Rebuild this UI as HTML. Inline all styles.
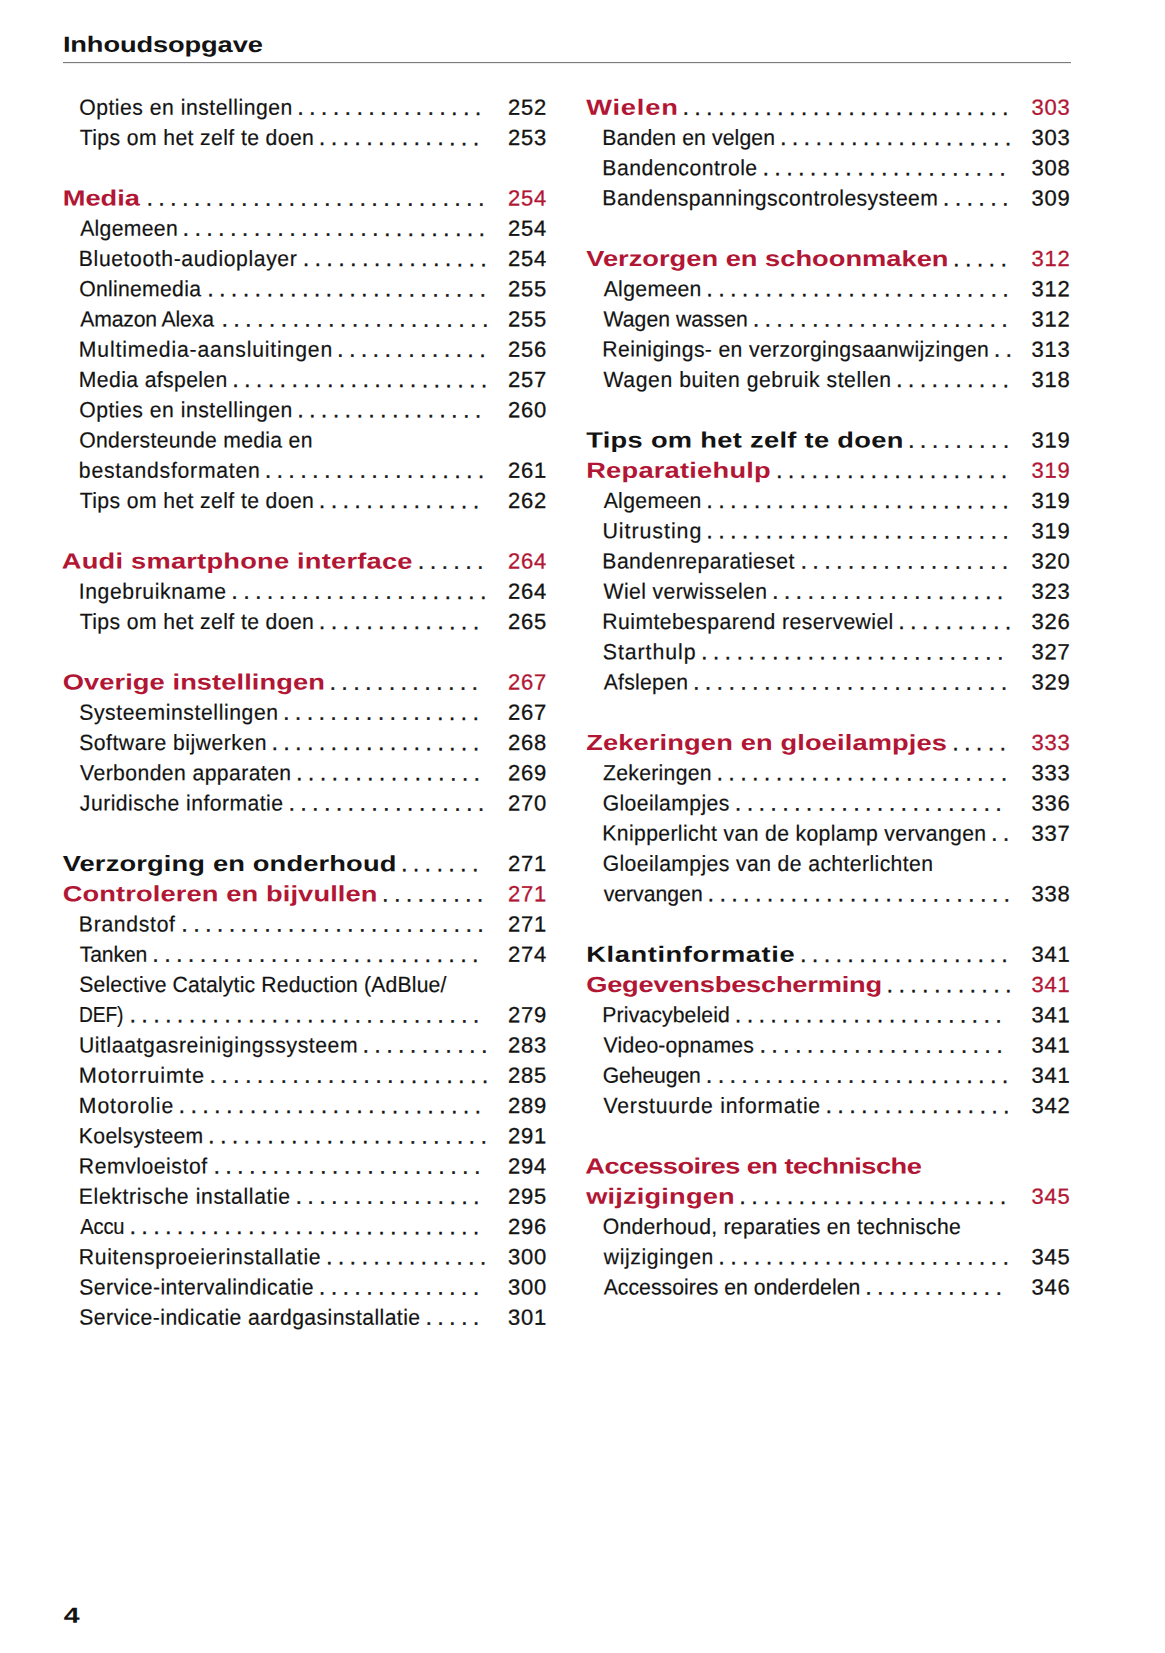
<!DOCTYPE html>
<html lang="nl"><head><meta charset="utf-8"><title>Inhoudsopgave</title><style>
html,body{margin:0;padding:0;background:#fff}
body{width:1165px;height:1653px;position:relative;overflow:hidden;font-family:"Liberation Sans",sans-serif;font-size:22.0px;line-height:30px;color:#131313}
.r{position:absolute;left:0;width:1165px;height:30px;white-space:pre}
.r span{position:absolute;top:0;white-space:pre;display:inline-block;transform-origin:0 50%}
.t{-webkit-text-stroke:0.2px currentColor}
.h{font-weight:bold;-webkit-text-stroke:0px currentColor}
.d{letter-spacing:5.728px;-webkit-text-stroke:0.45px currentColor}
.n{letter-spacing:0.728px;-webkit-text-stroke:0.3px currentColor}
#rule{position:absolute;left:63px;width:1007.5px;top:62px;height:1px;background:#7b7b7b;border-bottom:1px solid #ececec}
</style></head>
<body>
<div class="r" style="top:29px"><span class="h" style="letter-spacing:-0.109px;left:62px;transform:translate(0.88px,0.85px) skewY(0.03deg) scaleX(1.2400);">Inhoudsopgave</span></div>
<div id="rule"></div>
<div class="r" style="top:92px"><span class="t" style="letter-spacing:0.530px;left:79px;transform:translate(0.20px,0.64px) skewY(0.03deg) scaleX(0.9620);">Opties en instellingen</span><span class="d" style="left:297px;transform:translate(0.44px,0.80px) skewY(0.03deg);">................</span><span class="n" style="left:508px;transform:translate(0.04px,0.69px) skewY(0.03deg);">252</span></div>
<div class="r" style="top:122px"><span class="t" style="letter-spacing:0.410px;left:79px;transform:translate(0.72px,0.89px) skewY(0.03deg) scaleX(0.9620);">Tips om het zelf te doen</span><span class="d" style="left:319px;transform:translate(0.04px,1.06px) skewY(0.03deg);">..............</span><span class="n" style="left:508px;transform:translate(0.04px,0.94px) skewY(0.03deg);">253</span></div>
<div class="r" style="top:183px"><span class="h" style="color:#b21635;letter-spacing:-0.017px;left:62px;transform:translate(0.70px,0.53px) skewY(0.03deg) scaleX(1.2400);">Media</span><span class="d" style="left:146px;transform:translate(0.64px,0.61px) skewY(0.03deg);">.............................</span><span class="n" style="color:#b21635;left:508px;transform:translate(0.04px,0.54px) skewY(0.03deg);">254</span></div>
<div class="r" style="top:213px"><span class="t" style="letter-spacing:0.329px;left:80px;transform:translate(0.16px,0.67px) skewY(0.03deg) scaleX(0.9620);">Algemeen</span><span class="d" style="left:182px;transform:translate(0.84px,0.77px) skewY(0.03deg);">..........................</span><span class="n" style="left:508px;transform:translate(0.04px,0.69px) skewY(0.03deg);">254</span></div>
<div class="r" style="top:243px"><span class="t" style="letter-spacing:0.623px;left:78px;transform:translate(0.86px,0.89px) skewY(0.03deg) scaleX(0.9620);">Bluetooth-audioplayer</span><span class="d" style="left:302px;transform:translate(0.94px,1.05px) skewY(0.03deg);">................</span><span class="n" style="left:508px;transform:translate(0.04px,0.94px) skewY(0.03deg);">254</span></div>
<div class="r" style="top:274px"><span class="t" style="letter-spacing:0.300px;left:79px;transform:translate(0.20px,0.17px) skewY(0.03deg) scaleX(0.9620);">Onlinemedia</span><span class="d" style="left:207px;transform:translate(0.44px,0.28px) skewY(0.03deg);">........................</span><span class="n" style="left:508px;transform:translate(0.04px,0.19px) skewY(0.03deg);">255</span></div>
<div class="r" style="top:304px"><span class="t" style="letter-spacing:-0.144px;left:80px;transform:translate(0.16px,0.41px) skewY(0.03deg) scaleX(0.9620);">Amazon Alexa</span><span class="d" style="left:221px;transform:translate(0.64px,0.53px) skewY(0.03deg);">.......................</span><span class="n" style="left:508px;transform:translate(0.04px,0.44px) skewY(0.03deg);">255</span></div>
<div class="r" style="top:334px"><span class="t" style="letter-spacing:0.868px;left:78px;transform:translate(0.86px,0.63px) skewY(0.03deg) scaleX(0.9620);">Multimedia-aansluitingen</span><span class="d" style="left:337px;transform:translate(0.34px,0.81px) skewY(0.03deg);">.............</span><span class="n" style="left:508px;transform:translate(0.04px,0.69px) skewY(0.03deg);">256</span></div>
<div class="r" style="top:364px"><span class="t" style="letter-spacing:0.390px;left:78px;transform:translate(0.86px,0.91px) skewY(0.03deg) scaleX(0.9620);">Media afspelen</span><span class="d" style="left:232px;transform:translate(0.44px,1.03px) skewY(0.03deg);">......................</span><span class="n" style="left:508px;transform:translate(0.04px,0.94px) skewY(0.03deg);">257</span></div>
<div class="r" style="top:395px"><span class="t" style="letter-spacing:0.530px;left:79px;transform:translate(0.20px,0.14px) skewY(0.03deg) scaleX(0.9620);">Opties en instellingen</span><span class="d" style="left:297px;transform:translate(0.44px,0.30px) skewY(0.03deg);">................</span><span class="n" style="left:508px;transform:translate(0.04px,0.19px) skewY(0.03deg);">260</span></div>
<div class="r" style="top:425px"><span class="t" style="letter-spacing:0.322px;left:79px;transform:translate(0.20px,0.39px) skewY(0.03deg) scaleX(0.9620);">Ondersteunde media en</span></div>
<div class="r" style="top:455px"><span class="t" style="letter-spacing:0.799px;left:78px;transform:translate(0.84px,0.65px) skewY(0.03deg) scaleX(0.9620);">bestandsformaten</span><span class="d" style="left:264px;transform:translate(0.94px,0.79px) skewY(0.03deg);">...................</span><span class="n" style="left:508px;transform:translate(0.04px,0.69px) skewY(0.03deg);">261</span></div>
<div class="r" style="top:485px"><span class="t" style="letter-spacing:0.410px;left:79px;transform:translate(0.72px,0.89px) skewY(0.03deg) scaleX(0.9620);">Tips om het zelf te doen</span><span class="d" style="left:319px;transform:translate(0.04px,1.06px) skewY(0.03deg);">..............</span><span class="n" style="left:508px;transform:translate(0.04px,0.94px) skewY(0.03deg);">262</span></div>
<div class="r" style="top:546px"><span class="h" style="color:#b21635;letter-spacing:0.169px;left:61px;transform:translate(0.80px,0.46px) skewY(0.03deg) scaleX(1.2400);">Audi smartphone interface</span><span class="d" style="left:418px;transform:translate(0.04px,0.68px) skewY(0.03deg);">......</span><span class="n" style="color:#b21635;left:508px;transform:translate(0.04px,0.54px) skewY(0.03deg);">264</span></div>
<div class="r" style="top:576px"><span class="t" style="letter-spacing:0.631px;left:78px;transform:translate(0.65px,0.66px) skewY(0.03deg) scaleX(0.9620);">Ingebruikname</span><span class="d" style="left:231px;transform:translate(0.54px,0.78px) skewY(0.03deg);">......................</span><span class="n" style="left:508px;transform:translate(0.04px,0.69px) skewY(0.03deg);">264</span></div>
<div class="r" style="top:606px"><span class="t" style="letter-spacing:0.410px;left:79px;transform:translate(0.72px,0.89px) skewY(0.03deg) scaleX(0.9620);">Tips om het zelf te doen</span><span class="d" style="left:319px;transform:translate(0.04px,1.06px) skewY(0.03deg);">..............</span><span class="n" style="left:508px;transform:translate(0.04px,0.94px) skewY(0.03deg);">265</span></div>
<div class="r" style="top:667px"><span class="h" style="color:#b21635;letter-spacing:0.061px;left:62px;transform:translate(0.70px,0.48px) skewY(0.03deg) scaleX(1.2400);">Overige instellingen</span><span class="d" style="left:329px;transform:translate(0.74px,0.66px) skewY(0.03deg);">.............</span><span class="n" style="color:#b21635;left:508px;transform:translate(0.04px,0.54px) skewY(0.03deg);">267</span></div>
<div class="r" style="top:697px"><span class="t" style="letter-spacing:0.613px;left:79px;transform:translate(0.24px,0.65px) skewY(0.03deg) scaleX(0.9620);">Systeeminstellingen</span><span class="d" style="left:283px;transform:translate(0.24px,0.80px) skewY(0.03deg);">.................</span><span class="n" style="left:508px;transform:translate(0.04px,0.69px) skewY(0.03deg);">267</span></div>
<div class="r" style="top:727px"><span class="t" style="letter-spacing:0.516px;left:79px;transform:translate(0.24px,0.90px) skewY(0.03deg) scaleX(0.9620);">Software bijwerken</span><span class="d" style="left:271px;transform:translate(0.64px,1.05px) skewY(0.03deg);">..................</span><span class="n" style="left:508px;transform:translate(0.04px,0.94px) skewY(0.03deg);">268</span></div>
<div class="r" style="top:758px"><span class="t" style="letter-spacing:0.426px;left:80px;transform:translate(0.11px,0.15px) skewY(0.03deg) scaleX(0.9620);">Verbonden apparaten</span><span class="d" style="left:296px;transform:translate(0.24px,0.30px) skewY(0.03deg);">................</span><span class="n" style="left:508px;transform:translate(0.04px,0.19px) skewY(0.03deg);">269</span></div>
<div class="r" style="top:788px"><span class="t" style="letter-spacing:0.472px;left:79px;transform:translate(0.87px,0.40px) skewY(0.03deg) scaleX(0.9620);">Juridische informatie</span><span class="d" style="left:288px;transform:translate(0.64px,0.55px) skewY(0.03deg);">.................</span><span class="n" style="left:508px;transform:translate(0.04px,0.44px) skewY(0.03deg);">270</span></div>
<div class="r" style="top:849px"><span class="h" style="letter-spacing:0.121px;left:62px;transform:translate(0.70px,-0.04px) skewY(0.03deg) scaleX(1.2400);">Verzorging en onderhoud</span><span class="d" style="left:401px;transform:translate(0.14px,0.18px) skewY(0.03deg);">.......</span><span class="n" style="left:508px;transform:translate(0.04px,0.04px) skewY(0.03deg);">271</span></div>
<div class="r" style="top:879px"><span class="h" style="color:#b21635;letter-spacing:0.089px;left:62px;transform:translate(0.70px,0.22px) skewY(0.03deg) scaleX(1.2400);">Controleren en bijvullen</span><span class="d" style="left:382px;transform:translate(0.34px,0.43px) skewY(0.03deg);">.........</span><span class="n" style="color:#b21635;left:508px;transform:translate(0.04px,0.29px) skewY(0.03deg);">271</span></div>
<div class="r" style="top:909px"><span class="t" style="letter-spacing:0.717px;left:78px;transform:translate(0.86px,0.42px) skewY(0.03deg) scaleX(0.9620);">Brandstof</span><span class="d" style="left:181px;transform:translate(0.54px,0.52px) skewY(0.03deg);">..........................</span><span class="n" style="left:508px;transform:translate(0.04px,0.44px) skewY(0.03deg);">271</span></div>
<div class="r" style="top:939px"><span class="t" style="letter-spacing:-0.124px;left:79px;transform:translate(0.72px,0.68px) skewY(0.03deg) scaleX(0.9620);">Tanken</span><span class="d" style="left:152px;transform:translate(0.54px,0.77px) skewY(0.03deg);">............................</span><span class="n" style="left:508px;transform:translate(0.04px,0.69px) skewY(0.03deg);">274</span></div>
<div class="r" style="top:969px"><span class="t" style="letter-spacing:0.169px;left:79px;transform:translate(0.24px,0.85px) skewY(0.03deg) scaleX(0.9620);">Selective Catalytic Reduction (AdBlue/</span></div>
<div class="r" style="top:1000px"><span class="t" style="letter-spacing:-0.150px;left:79px;transform:translate(0.03px,0.19px) skewY(0.03deg) scaleX(0.8720);">DEF)</span><span class="d" style="left:129px;transform:translate(0.74px,0.26px) skewY(0.03deg);">..............................</span><span class="n" style="left:508px;transform:translate(0.04px,0.19px) skewY(0.03deg);">279</span></div>
<div class="r" style="top:1030px"><span class="t" style="letter-spacing:0.605px;left:78px;transform:translate(0.97px,0.38px) skewY(0.03deg) scaleX(0.9620);">Uitlaatgasreinigingssysteem</span><span class="d" style="left:362px;transform:translate(0.74px,0.57px) skewY(0.03deg);">...........</span><span class="n" style="left:508px;transform:translate(0.04px,0.44px) skewY(0.03deg);">283</span></div>
<div class="r" style="top:1060px"><span class="t" style="letter-spacing:0.950px;left:78px;transform:translate(0.82px,0.67px) skewY(0.03deg) scaleX(0.9873);">Motorruimte</span><span class="d" style="left:209px;transform:translate(0.64px,0.78px) skewY(0.03deg);">........................</span><span class="n" style="left:508px;transform:translate(0.04px,0.69px) skewY(0.03deg);">285</span></div>
<div class="r" style="top:1090px"><span class="t" style="letter-spacing:0.950px;left:78px;transform:translate(0.86px,0.93px) skewY(0.03deg) scaleX(0.9622);">Motorolie</span><span class="d" style="left:178px;transform:translate(0.84px,1.02px) skewY(0.03deg);">..........................</span><span class="n" style="left:508px;transform:translate(0.04px,0.94px) skewY(0.03deg);">289</span></div>
<div class="r" style="top:1121px"><span class="t" style="letter-spacing:0.330px;left:78px;transform:translate(0.86px,0.17px) skewY(0.03deg) scaleX(0.9620);">Koelsysteem</span><span class="d" style="left:208px;transform:translate(0.34px,0.28px) skewY(0.03deg);">........................</span><span class="n" style="left:508px;transform:translate(0.04px,0.19px) skewY(0.03deg);">291</span></div>
<div class="r" style="top:1151px"><span class="t" style="letter-spacing:0.556px;left:78px;transform:translate(0.86px,0.42px) skewY(0.03deg) scaleX(0.9620);">Remvloeistof</span><span class="d" style="left:213px;transform:translate(0.64px,0.53px) skewY(0.03deg);">.......................</span><span class="n" style="left:508px;transform:translate(0.04px,0.44px) skewY(0.03deg);">294</span></div>
<div class="r" style="top:1181px"><span class="t" style="letter-spacing:0.645px;left:78px;transform:translate(0.86px,0.64px) skewY(0.03deg) scaleX(0.9620);">Elektrische installatie</span><span class="d" style="left:295px;transform:translate(0.74px,0.80px) skewY(0.03deg);">................</span><span class="n" style="left:508px;transform:translate(0.04px,0.69px) skewY(0.03deg);">295</span></div>
<div class="r" style="top:1211px"><span class="t" style="letter-spacing:-0.150px;left:80px;transform:translate(0.16px,0.94px) skewY(0.03deg) scaleX(0.9158);">Accu</span><span class="d" style="left:129px;transform:translate(0.74px,1.01px) skewY(0.03deg);">..............................</span><span class="n" style="left:508px;transform:translate(0.04px,0.94px) skewY(0.03deg);">296</span></div>
<div class="r" style="top:1242px"><span class="t" style="letter-spacing:0.685px;left:78px;transform:translate(0.86px,0.14px) skewY(0.03deg) scaleX(0.9620);">Ruitensproeierinstallatie</span><span class="d" style="left:326px;transform:translate(0.14px,0.31px) skewY(0.03deg);">..............</span><span class="n" style="left:508px;transform:translate(0.04px,0.19px) skewY(0.03deg);">300</span></div>
<div class="r" style="top:1272px"><span class="t" style="letter-spacing:0.464px;left:79px;transform:translate(0.24px,0.39px) skewY(0.03deg) scaleX(0.9620);">Service-intervalindicatie</span><span class="d" style="left:319px;transform:translate(0.04px,0.56px) skewY(0.03deg);">..............</span><span class="n" style="left:508px;transform:translate(0.04px,0.44px) skewY(0.03deg);">300</span></div>
<div class="r" style="top:1302px"><span class="t" style="letter-spacing:0.444px;left:79px;transform:translate(0.24px,0.61px) skewY(0.03deg) scaleX(0.9620);">Service-indicatie aardgasinstallatie</span><span class="d" style="left:425px;transform:translate(0.64px,0.84px) skewY(0.03deg);">.....</span><span class="n" style="left:508px;transform:translate(0.04px,0.69px) skewY(0.03deg);">301</span></div>
<div class="r" style="top:92px"><span class="h" style="color:#b21635;letter-spacing:0.632px;left:586px;transform:translate(0.20px,0.78px) skewY(0.03deg) scaleX(1.2400);">Wielen</span><span class="d" style="left:682px;transform:translate(0.64px,0.87px) skewY(0.03deg);">............................</span><span class="n" style="color:#b21635;left:1031px;transform:translate(0.54px,0.79px) skewY(0.03deg);">303</span></div>
<div class="r" style="top:122px"><span class="t" style="letter-spacing:0.137px;left:602px;transform:translate(0.36px,0.91px) skewY(0.03deg) scaleX(0.9620);">Banden en velgen</span><span class="d" style="left:780px;transform:translate(0.14px,1.04px) skewY(0.03deg);">....................</span><span class="n" style="left:1031px;transform:translate(0.54px,0.94px) skewY(0.03deg);">303</span></div>
<div class="r" style="top:153px"><span class="t" style="letter-spacing:0.521px;left:602px;transform:translate(0.36px,0.16px) skewY(0.03deg) scaleX(0.9620);">Bandencontrole</span><span class="d" style="left:762px;transform:translate(0.74px,0.29px) skewY(0.03deg);">.....................</span><span class="n" style="left:1031px;transform:translate(0.54px,0.19px) skewY(0.03deg);">308</span></div>
<div class="r" style="top:183px"><span class="t" style="letter-spacing:0.430px;left:602px;transform:translate(0.36px,0.36px) skewY(0.03deg) scaleX(0.9620);">Bandenspanningscontrolesysteem</span><span class="d" style="left:943px;transform:translate(0.04px,0.58px) skewY(0.03deg);">......</span><span class="n" style="left:1031px;transform:translate(0.54px,0.44px) skewY(0.03deg);">309</span></div>
<div class="r" style="top:244px"><span class="h" style="color:#b21635;left:586px;transform:translate(0.20px,-0.04px) skewY(0.03deg) scaleX(1.2400);">Verzorgen en schoonmaken</span><span class="d" style="left:953px;transform:translate(0.34px,0.19px) skewY(0.03deg);">.....</span><span class="n" style="color:#b21635;left:1031px;transform:translate(0.54px,0.04px) skewY(0.03deg);">312</span></div>
<div class="r" style="top:274px"><span class="t" style="letter-spacing:0.359px;left:603px;transform:translate(0.66px,0.17px) skewY(0.03deg) scaleX(0.9620);">Algemeen</span><span class="d" style="left:706px;transform:translate(0.54px,0.27px) skewY(0.03deg);">..........................</span><span class="n" style="left:1031px;transform:translate(0.54px,0.19px) skewY(0.03deg);">312</span></div>
<div class="r" style="top:304px"><span class="t" style="letter-spacing:0.024px;left:603px;transform:translate(0.61px,0.41px) skewY(0.03deg) scaleX(0.9620);">Wagen wassen</span><span class="d" style="left:752px;transform:translate(0.94px,0.53px) skewY(0.03deg);">......................</span><span class="n" style="left:1031px;transform:translate(0.54px,0.44px) skewY(0.03deg);">312</span></div>
<div class="r" style="top:334px"><span class="t" style="letter-spacing:0.379px;left:602px;transform:translate(0.36px,0.60px) skewY(0.03deg) scaleX(0.9620);">Reinigings- en verzorgingsaanwijzingen</span><span class="d" style="left:993px;transform:translate(0.94px,0.85px) skewY(0.03deg);">..</span><span class="n" style="left:1031px;transform:translate(0.54px,0.69px) skewY(0.03deg);">313</span></div>
<div class="r" style="top:364px"><span class="t" style="letter-spacing:0.589px;left:603px;transform:translate(0.61px,0.88px) skewY(0.03deg) scaleX(0.9620);">Wagen buiten gebruik stellen</span><span class="d" style="left:896px;transform:translate(0.24px,1.07px) skewY(0.03deg);">..........</span><span class="n" style="left:1031px;transform:translate(0.54px,0.94px) skewY(0.03deg);">318</span></div>
<div class="r" style="top:425px"><span class="h" style="letter-spacing:0.245px;left:586px;transform:translate(0.20px,0.47px) skewY(0.03deg) scaleX(1.2400);">Tips om het zelf te doen</span><span class="d" style="left:908px;transform:translate(0.24px,0.68px) skewY(0.03deg);">.........</span><span class="n" style="left:1031px;transform:translate(0.54px,0.54px) skewY(0.03deg);">319</span></div>
<div class="r" style="top:455px"><span class="h" style="color:#b21635;letter-spacing:0.176px;left:586px;transform:translate(0.20px,0.75px) skewY(0.03deg) scaleX(1.2400);">Reparatiehulp</span><span class="d" style="left:776px;transform:translate(0.14px,0.89px) skewY(0.03deg);">....................</span><span class="n" style="color:#b21635;left:1031px;transform:translate(0.54px,0.79px) skewY(0.03deg);">319</span></div>
<div class="r" style="top:485px"><span class="t" style="letter-spacing:0.359px;left:603px;transform:translate(0.66px,0.92px) skewY(0.03deg) scaleX(0.9620);">Algemeen</span><span class="d" style="left:706px;transform:translate(0.54px,1.02px) skewY(0.03deg);">..........................</span><span class="n" style="left:1031px;transform:translate(0.54px,0.94px) skewY(0.03deg);">319</span></div>
<div class="r" style="top:516px"><span class="t" style="letter-spacing:0.950px;left:602px;transform:translate(0.45px,0.17px) skewY(0.03deg) scaleX(0.9750);">Uitrusting</span><span class="d" style="left:706px;transform:translate(0.54px,0.27px) skewY(0.03deg);">..........................</span><span class="n" style="left:1031px;transform:translate(0.54px,0.19px) skewY(0.03deg);">319</span></div>
<div class="r" style="top:546px"><span class="t" style="letter-spacing:0.444px;left:602px;transform:translate(0.36px,0.40px) skewY(0.03deg) scaleX(0.9620);">Bandenreparatieset</span><span class="d" style="left:800px;transform:translate(0.74px,0.55px) skewY(0.03deg);">..................</span><span class="n" style="left:1031px;transform:translate(0.54px,0.44px) skewY(0.03deg);">320</span></div>
<div class="r" style="top:576px"><span class="t" style="letter-spacing:0.400px;left:603px;transform:translate(0.61px,0.66px) skewY(0.03deg) scaleX(0.9620);">Wiel verwisselen</span><span class="d" style="left:772px;transform:translate(0.14px,0.79px) skewY(0.03deg);">....................</span><span class="n" style="left:1031px;transform:translate(0.54px,0.69px) skewY(0.03deg);">323</span></div>
<div class="r" style="top:606px"><span class="t" style="letter-spacing:0.439px;left:602px;transform:translate(0.36px,0.87px) skewY(0.03deg) scaleX(0.9620);">Ruimtebesparend reservewiel</span><span class="d" style="left:898px;transform:translate(0.44px,1.07px) skewY(0.03deg);">..........</span><span class="n" style="left:1031px;transform:translate(0.54px,0.94px) skewY(0.03deg);">326</span></div>
<div class="r" style="top:637px"><span class="t" style="letter-spacing:0.950px;left:602px;transform:translate(0.73px,0.18px) skewY(0.03deg) scaleX(0.9698);">Starthulp</span><span class="d" style="left:701px;transform:translate(0.14px,0.27px) skewY(0.03deg);">..........................</span><span class="n" style="left:1031px;transform:translate(0.54px,0.19px) skewY(0.03deg);">327</span></div>
<div class="r" style="top:667px"><span class="t" style="letter-spacing:0.290px;left:603px;transform:translate(0.66px,0.43px) skewY(0.03deg) scaleX(0.9620);">Afslepen</span><span class="d" style="left:693px;transform:translate(0.14px,0.52px) skewY(0.03deg);">...........................</span><span class="n" style="left:1031px;transform:translate(0.54px,0.44px) skewY(0.03deg);">329</span></div>
<div class="r" style="top:728px"><span class="h" style="color:#b21635;letter-spacing:0.098px;left:586px;transform:translate(0.20px,-0.04px) skewY(0.03deg) scaleX(1.2400);">Zekeringen en gloeilampjes</span><span class="d" style="left:952px;transform:translate(0.44px,0.19px) skewY(0.03deg);">.....</span><span class="n" style="color:#b21635;left:1031px;transform:translate(0.54px,0.04px) skewY(0.03deg);">333</span></div>
<div class="r" style="top:758px"><span class="t" style="letter-spacing:0.308px;left:603px;transform:translate(0.03px,0.17px) skewY(0.03deg) scaleX(0.9620);">Zekeringen</span><span class="d" style="left:716px;transform:translate(0.74px,0.28px) skewY(0.03deg);">.........................</span><span class="n" style="left:1031px;transform:translate(0.54px,0.19px) skewY(0.03deg);">333</span></div>
<div class="r" style="top:788px"><span class="t" style="letter-spacing:0.406px;left:602px;transform:translate(0.64px,0.42px) skewY(0.03deg) scaleX(0.9620);">Gloeilampjes</span><span class="d" style="left:735px;transform:translate(0.04px,0.53px) skewY(0.03deg);">.......................</span><span class="n" style="left:1031px;transform:translate(0.54px,0.44px) skewY(0.03deg);">336</span></div>
<div class="r" style="top:818px"><span class="t" style="letter-spacing:0.379px;left:602px;transform:translate(0.36px,0.60px) skewY(0.03deg) scaleX(0.9620);">Knipperlicht van de koplamp vervangen</span><span class="d" style="left:991px;transform:translate(0.24px,0.85px) skewY(0.03deg);">..</span><span class="n" style="left:1031px;transform:translate(0.54px,0.69px) skewY(0.03deg);">337</span></div>
<div class="r" style="top:848px"><span class="t" style="letter-spacing:0.413px;left:602px;transform:translate(0.64px,0.86px) skewY(0.03deg) scaleX(0.9620);">Gloeilampjes van de achterlichten</span></div>
<div class="r" style="top:879px"><span class="t" style="letter-spacing:0.028px;left:603px;transform:translate(0.63px,0.17px) skewY(0.03deg) scaleX(0.9620);">vervangen</span><span class="d" style="left:707px;transform:translate(0.84px,0.27px) skewY(0.03deg);">..........................</span><span class="n" style="left:1031px;transform:translate(0.54px,0.19px) skewY(0.03deg);">338</span></div>
<div class="r" style="top:939px"><span class="h" style="letter-spacing:0.482px;left:586px;transform:translate(0.20px,0.75px) skewY(0.03deg) scaleX(1.2400);">Klantinformatie</span><span class="d" style="left:800px;transform:translate(0.24px,0.90px) skewY(0.03deg);">..................</span><span class="n" style="left:1031px;transform:translate(0.54px,0.79px) skewY(0.03deg);">341</span></div>
<div class="r" style="top:970px"><span class="h" style="color:#b21635;letter-spacing:-0.192px;left:586px;transform:translate(0.20px,-0.03px) skewY(0.03deg) scaleX(1.2400);">Gegevensbescherming</span><span class="d" style="left:886px;transform:translate(0.84px,0.17px) skewY(0.03deg);">...........</span><span class="n" style="color:#b21635;left:1031px;transform:translate(0.54px,0.04px) skewY(0.03deg);">341</span></div>
<div class="r" style="top:1000px"><span class="t" style="letter-spacing:0.141px;left:602px;transform:translate(0.36px,0.17px) skewY(0.03deg) scaleX(0.9620);">Privacybeleid</span><span class="d" style="left:735px;transform:translate(0.04px,0.28px) skewY(0.03deg);">.......................</span><span class="n" style="left:1031px;transform:translate(0.54px,0.19px) skewY(0.03deg);">341</span></div>
<div class="r" style="top:1030px"><span class="t" style="letter-spacing:0.208px;left:603px;transform:translate(0.61px,0.41px) skewY(0.03deg) scaleX(0.9620);">Video-opnames</span><span class="d" style="left:759px;transform:translate(0.64px,0.54px) skewY(0.03deg);">.....................</span><span class="n" style="left:1031px;transform:translate(0.54px,0.44px) skewY(0.03deg);">341</span></div>
<div class="r" style="top:1060px"><span class="t" style="letter-spacing:-0.091px;left:602px;transform:translate(0.64px,0.67px) skewY(0.03deg) scaleX(0.9620);">Geheugen</span><span class="d" style="left:706px;transform:translate(0.04px,0.77px) skewY(0.03deg);">..........................</span><span class="n" style="left:1031px;transform:translate(0.54px,0.69px) skewY(0.03deg);">341</span></div>
<div class="r" style="top:1090px"><span class="t" style="letter-spacing:0.799px;left:603px;transform:translate(0.61px,0.89px) skewY(0.03deg) scaleX(0.9620);">Verstuurde informatie</span><span class="d" style="left:825px;transform:translate(0.74px,1.05px) skewY(0.03deg);">................</span><span class="n" style="left:1031px;transform:translate(0.54px,0.94px) skewY(0.03deg);">342</span></div>
<div class="r" style="top:1151px"><span class="h" style="color:#b21635;letter-spacing:-0.462px;left:585px;transform:translate(0.30px,0.46px) skewY(0.03deg) scaleX(1.2400);">Accessoires en technische</span></div>
<div class="r" style="top:1181px"><span class="h" style="color:#b21635;letter-spacing:0.120px;left:586px;transform:translate(0.20px,0.76px) skewY(0.03deg) scaleX(1.2400);">wijzigingen</span><span class="d" style="left:739px;transform:translate(0.54px,0.88px) skewY(0.03deg);">.......................</span><span class="n" style="color:#b21635;left:1031px;transform:translate(0.54px,0.79px) skewY(0.03deg);">345</span></div>
<div class="r" style="top:1211px"><span class="t" style="letter-spacing:0.299px;left:602px;transform:translate(0.70px,0.86px) skewY(0.03deg) scaleX(0.9620);">Onderhoud, reparaties en technische</span></div>
<div class="r" style="top:1242px"><span class="t" style="letter-spacing:0.636px;left:603px;transform:translate(0.73px,0.17px) skewY(0.03deg) scaleX(0.9620);">wijzigingen</span><span class="d" style="left:718px;transform:translate(0.54px,0.28px) skewY(0.03deg);">.........................</span><span class="n" style="left:1031px;transform:translate(0.54px,0.19px) skewY(0.03deg);">345</span></div>
<div class="r" style="top:1272px"><span class="t" style="letter-spacing:0.057px;left:603px;transform:translate(0.66px,0.38px) skewY(0.03deg) scaleX(0.9620);">Accessoires en onderdelen</span><span class="d" style="left:865px;transform:translate(0.44px,0.57px) skewY(0.03deg);">............</span><span class="n" style="left:1031px;transform:translate(0.54px,0.44px) skewY(0.03deg);">346</span></div>
<div class="r" style="top:1600px"><span class="h" style="left:63px;transform:translate(0.79px,0.80px) skewY(0.03deg) scaleX(1.2967);">4</span></div>
</body></html>
